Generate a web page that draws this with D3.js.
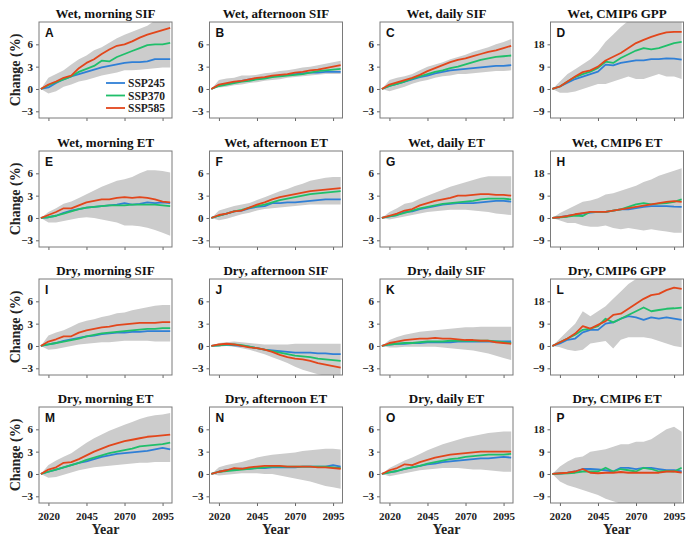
<!DOCTYPE html>
<html><head><meta charset="utf-8">
<script src="https://cdn.jsdelivr.net/npm/d3@7/dist/d3.min.js"></script>
<style>body{margin:0;background:#fff}svg{display:block}</style>
</head><body><svg id="c" width="700" height="541"></svg>
<script>
const years = [2015,2020,2025,2030,2035,2040,2045,2050,2055,2060,2065,2070,2075,2080,2085,2090,2095,2100];
const xTicks = [2020,2045,2070,2095];
const yTicksSmall = [-3,0,3,6];
const yTicksBig = [-9,0,9,18];
const seriesNames = ["SSP245","SSP370","SSP585"];
const seriesColors = ["#2f7fd6","#1fbf6a","#e2461b"];
const titles = ["Wet, morning SIF","Wet, afternoon SIF","Wet, daily SIF","Wet, CMIP6 GPP",
  "Wet, morning ET","Wet, afternoon ET","Wet, daily ET","Wet, CMIP6 ET",
  "Dry, morning SIF","Dry, afternoon SIF","Dry, daily SIF","Dry, CMIP6 GPP",
  "Dry, morning ET","Dry, afternoon ET","Dry, daily ET","Dry, CMIP6 ET"];
const letters = ["A","B","C","D","E","F","G","H","I","J","K","L","M","N","O","P"];

// A
const A245=[0,0.2,0.8,1.3,1.7,2.0,2.3,2.6,2.9,3.1,3.3,3.5,3.6,3.6,3.7,4.0,4.0,4.0];
const A370=[0,0.5,0.9,1.3,1.7,2.3,2.7,3.1,3.8,3.7,4.3,4.7,5.1,5.5,5.9,6.0,6.0,6.2];
const A585=[0,0.6,1.0,1.5,1.8,2.8,3.5,4.0,4.7,5.3,5.8,6.0,6.4,6.9,7.3,7.6,7.9,8.2];
const Ahi=[0,1.5,2.0,2.5,3.3,4.0,4.5,5.2,5.6,6.2,6.8,7.3,7.7,8.1,8.5,9.2,9.4,9.4];
const Alo=[0,-0.6,-0.3,0.3,0.6,1.0,1.2,1.5,1.8,2.0,2.2,2.5,2.5,2.6,2.7,2.8,2.9,2.9];
// B
const B245=[0,0.5,0.7,0.9,1.1,1.3,1.4,1.5,1.7,1.8,1.9,2.0,2.1,2.2,2.2,2.3,2.3,2.3];
const B370=[0,0.4,0.6,0.8,1.0,1.1,1.3,1.4,1.6,1.7,1.8,1.9,2.0,2.2,2.4,2.5,2.6,2.7];
const B585=[0,0.6,0.8,1.0,1.1,1.3,1.5,1.6,1.8,1.9,2.0,2.2,2.3,2.5,2.6,2.8,3.0,3.2];
const Bhi=[0,1.2,1.4,1.5,1.8,1.8,1.9,2.1,2.2,2.4,2.5,2.7,2.9,3.0,3.2,3.4,3.6,3.8];
const Blo=[0,0.2,0.3,0.5,0.6,0.8,0.9,1.1,1.2,1.3,1.5,1.6,1.7,1.8,1.9,2.0,2.0,2.0];
// C
const C245=[0,0.4,0.7,1.0,1.3,1.6,1.8,2.1,2.3,2.5,2.6,2.7,2.8,2.9,3.0,3.1,3.1,3.2];
const C370=[0,0.4,0.7,1.0,1.4,1.7,2.0,2.3,2.5,2.8,3.0,3.3,3.6,3.9,4.1,4.3,4.4,4.5];
const C585=[0,0.6,0.9,1.2,1.5,1.9,2.4,2.8,3.2,3.6,3.9,4.1,4.4,4.7,5.0,5.2,5.5,5.8];
const Chi=[0,1.2,1.5,1.7,2.0,2.5,3.0,3.3,3.6,4.0,4.3,4.6,5.0,5.3,5.6,6.0,6.3,6.7];
const Clo=[0,-0.3,0.0,0.3,0.7,1.0,1.2,1.5,1.7,1.8,2.0,2.0,2.1,2.2,2.3,2.4,2.4,2.5];
// D
const D245=[0,1.0,2.5,4.0,5.0,6.0,7.0,9.8,9.5,10.5,11.0,11.5,11.5,12.0,12.0,12.3,12.2,11.8];
const D370=[0,1.0,3.0,4.8,6.0,7.0,8.5,11.0,10.5,12.5,14.0,15.5,16.5,16.0,16.5,17.5,18.5,19.0];
const D585=[0,1.0,3.0,5.0,6.8,7.5,9.0,11.5,13.0,14.5,16.5,18.5,19.8,21.0,22.0,22.8,23.0,23.0];
const Dhi=[0,3,6,8,10,12,15,19,22,25,27.5,28,28,28,28,28,28,28];
const Dlo=[0,-1.5,-1.5,-1,0,1,2,2,3,4,5,4,4,5,6,5,5,4];
// E
const E245=[0,0.1,0.3,0.7,1.0,1.2,1.4,1.5,1.6,1.7,1.8,2.0,1.8,1.9,2.1,2.0,2.1,2.0];
const E370=[0,0.1,0.3,0.6,0.9,1.2,1.4,1.5,1.6,1.7,1.7,1.7,1.8,1.8,1.8,1.8,1.7,1.6];
const E585=[0,0.4,0.8,1.3,1.3,1.7,2.1,2.3,2.5,2.5,2.7,2.8,2.7,2.8,2.7,2.5,2.2,2.1];
const Ehi=[0,0.8,1.3,1.9,2.2,2.7,3.2,3.7,4.2,4.6,5.0,5.2,5.5,6.0,6.4,6.4,6.3,6.1];
const Elo=[0,-0.6,-0.6,-0.4,-0.2,0.0,0.1,0.0,-0.2,-0.4,-0.6,-1.0,-1.0,-1.1,-1.3,-1.6,-2.0,-2.4];
// F
const F245=[0,0.3,0.6,0.9,1.0,1.3,1.5,1.6,2.0,2.0,2.1,2.1,2.2,2.3,2.4,2.5,2.5,2.5];
const F370=[0,0.3,0.6,0.9,1.1,1.4,1.6,1.8,2.1,2.4,2.6,2.8,3.0,3.2,3.3,3.4,3.5,3.6];
const F585=[0,0.4,0.6,0.9,1.0,1.4,1.8,2.1,2.5,2.8,3.0,3.2,3.4,3.6,3.7,3.8,3.9,4.0];
const Fhi=[0,1.0,1.3,1.6,1.8,2.0,2.4,2.8,3.2,3.6,3.9,4.3,4.6,5.0,5.2,5.4,5.5,5.5];
const Flo=[0,-0.3,-0.1,0.2,0.5,0.7,1.0,1.2,1.3,1.4,1.5,1.6,1.7,1.8,1.8,1.8,1.8,1.8];
// G
const G245=[0,0.2,0.4,0.8,0.9,1.2,1.4,1.6,1.8,1.9,2.0,2.0,2.0,2.1,2.2,2.3,2.3,2.2];
const G370=[0,0.2,0.4,0.7,1.0,1.3,1.5,1.7,1.9,2.0,2.1,2.2,2.3,2.5,2.6,2.6,2.6,2.5];
const G585=[0,0.3,0.6,1.0,1.2,1.7,2.0,2.3,2.5,2.7,3.0,3.0,3.1,3.2,3.2,3.1,3.1,3.0];
const Ghi=[0,0.8,1.3,1.9,2.1,2.6,3.0,3.4,3.8,4.2,4.5,4.8,5.1,5.4,5.6,5.6,5.6,5.6];
const Glo=[0,-0.2,0.0,0.2,0.4,0.6,0.8,0.9,1.0,1.1,1.1,1.1,1.0,0.9,0.8,0.6,0.5,0.4];
// H
const H245=[0,0.3,0.8,1.3,1.8,2.2,2.5,2.5,3.0,3.5,3.5,4.0,4.5,4.8,4.8,4.8,4.6,4.5];
const H370=[0,0.3,0.5,1.0,0.8,2.5,2.5,2.5,3.0,3.5,4.5,5.5,6.0,5.5,5.8,6.0,6.5,7.5];
const H585=[0,0.3,0.8,1.5,2.0,2.5,2.5,2.5,3.0,3.5,4.0,4.5,5.0,5.5,6.0,6.5,6.8,6.5];
const Hhi=[0,2,3.5,5,6.5,7,8,9.5,10,11,12,13,14.5,15.5,17,18,19,20];
const Hlo=[0,-1,-2,-2,-3,-3.5,-3.5,-3,-4,-4.5,-4,-4.5,-5,-4.5,-5,-5.5,-6,-6];
// I
const I245=[0,0.2,0.4,0.7,0.9,1.1,1.3,1.4,1.6,1.7,1.8,1.8,1.9,1.9,2.0,2.0,2.0,2.0];
const I370=[0,0.2,0.4,0.6,0.8,1.0,1.3,1.5,1.7,1.8,1.9,2.0,2.1,2.2,2.3,2.3,2.4,2.4];
const I585=[0,0.6,0.9,1.3,1.3,1.8,2.1,2.3,2.5,2.6,2.8,2.9,3.0,3.1,3.1,3.1,3.2,3.2];
const Ihi=[0,1.4,1.8,2.1,2.6,3.1,3.4,3.6,3.9,4.1,4.4,4.5,4.8,5.0,5.2,5.4,5.5,5.5];
const Ilo=[0,-0.5,-0.4,-0.2,0.0,0.2,0.3,0.4,0.5,0.5,0.6,0.7,0.7,0.7,0.7,0.6,0.6,0.6];
// J
const J245=[0,0.1,0.2,0.1,0.0,-0.1,-0.3,-0.5,-0.6,-0.7,-0.8,-0.9,-0.9,-0.9,-1.0,-1.0,-1.1,-1.1];
const J370=[0,0.1,0.2,0.2,0.1,-0.1,-0.3,-0.5,-0.7,-0.9,-1.1,-1.3,-1.4,-1.5,-1.7,-1.8,-1.9,-2.0];
const J585=[0,0.2,0.3,0.2,0.0,-0.2,-0.3,-0.5,-0.8,-1.2,-1.5,-1.7,-1.8,-2.0,-2.3,-2.5,-2.7,-2.9];
const Jhi=[0,0.4,0.5,0.6,0.5,0.4,0.3,0.2,0.2,0.2,0.2,0.3,0.3,0.3,0.3,0.3,0.3,0.3];
const Jlo=[0,-0.1,0.0,-0.1,-0.3,-0.5,-0.8,-1.1,-1.5,-1.9,-2.3,-2.8,-3.2,-3.5,-3.8,-4.0,-4.0,-4.0];
// K
const K245=[0,0.2,0.3,0.3,0.4,0.4,0.5,0.5,0.5,0.5,0.6,0.6,0.6,0.6,0.6,0.6,0.6,0.6];
const K370=[0,0.2,0.3,0.4,0.4,0.5,0.6,0.6,0.6,0.7,0.7,0.7,0.7,0.7,0.7,0.6,0.5,0.4];
const K585=[0,0.4,0.6,0.8,0.9,1.0,1.0,1.1,1.0,1.0,0.9,0.8,0.8,0.7,0.7,0.5,0.4,0.3];
const Khi=[0,0.8,1.2,1.5,1.7,1.9,2.0,2.1,2.2,2.3,2.4,2.5,2.5,2.6,2.6,2.6,2.6,2.6];
const Klo=[0,-0.2,-0.2,-0.1,-0.1,-0.1,-0.1,-0.1,-0.2,-0.3,-0.4,-0.5,-0.6,-0.8,-1.0,-1.3,-1.6,-1.9];
// L
const L245=[0,1.0,2.5,3.0,5.5,6.5,6.5,9.0,9.5,11.0,12.0,11.5,10.5,11.5,11.0,11.5,11.0,10.5];
const L370=[0,1.5,3.0,4.5,6.5,7.0,8.0,11.0,9.5,11.0,12.5,14.0,15.5,14.0,14.5,15.0,15.2,15.5];
const L585=[0,1.5,3.0,5.0,8.0,7.0,8.5,10.0,12.5,13.0,15.0,17.0,19.0,20.5,21.0,22.5,23.5,23.0];
const Lhi=[0,3,6,9,14,12,14,16,19,22,25,27,28,28,28,28,28,28];
const Llo=[0,-0.5,-1.5,-2,-1.5,1,1.5,2,-1,2.5,3.5,3.5,3.5,3,2,1,0,-0.5];
// M
const M245=[0,0.3,0.6,0.9,1.2,1.5,1.7,2.0,2.3,2.5,2.7,2.8,2.9,3.0,3.1,3.3,3.5,3.3];
const M370=[0,0.3,0.6,0.9,1.2,1.5,1.9,2.2,2.5,2.8,3.0,3.2,3.4,3.7,3.8,3.9,4.0,4.2];
const M585=[0,0.6,0.9,1.5,1.6,2.0,2.5,3.0,3.4,3.8,4.1,4.4,4.6,4.8,5.0,5.1,5.2,5.3];
const Mhi=[0,1.2,1.8,2.3,2.8,3.5,4.2,4.8,5.3,5.8,6.2,6.6,7.0,7.4,7.7,7.9,8.0,8.2];
const Mlo=[0,-0.5,-0.4,-0.1,0.2,0.5,0.7,0.9,1.0,1.1,1.2,1.3,1.4,1.5,1.5,1.6,1.6,1.6];
// N
const N245=[0,0.3,0.5,0.6,0.7,0.7,0.8,0.8,0.9,0.9,0.9,0.9,1.0,1.0,1.0,1.0,1.2,1.0];
const N370=[0,0.3,0.4,0.5,0.6,0.7,0.8,0.9,1.0,1.0,1.0,1.0,1.0,1.0,1.0,1.0,0.9,0.8];
const N585=[0,0.3,0.5,0.8,0.7,0.9,1.0,1.1,1.1,1.1,1.0,1.0,1.0,1.0,0.9,0.9,0.8,0.7];
const Nhi=[0,0.9,1.2,1.4,1.6,1.9,2.2,2.4,2.6,2.7,2.8,2.9,3.1,3.2,3.3,3.4,3.4,3.3];
const Nlo=[0,-0.2,-0.1,0.0,0.1,0.1,0.1,0.0,0.0,-0.2,-0.4,-0.6,-0.8,-1.0,-1.3,-1.6,-1.8,-2.0];
// O
const O245=[0,0.2,0.4,0.7,0.9,1.1,1.3,1.4,1.6,1.7,1.8,1.9,2.0,2.1,2.1,2.2,2.3,2.2];
const O370=[0,0.2,0.4,0.7,0.9,1.1,1.4,1.6,1.8,2.0,2.1,2.3,2.4,2.5,2.6,2.6,2.6,2.7];
const O585=[0,0.5,0.8,1.3,1.2,1.6,1.9,2.2,2.4,2.6,2.7,2.8,2.9,3.0,3.0,3.0,3.0,3.0];
const Ohi=[0,0.8,1.3,1.8,2.2,2.7,3.2,3.6,4.0,4.3,4.6,4.9,5.1,5.3,5.5,5.6,5.7,5.7];
const Olo=[0,-0.3,-0.1,0.1,0.3,0.5,0.6,0.7,0.8,0.8,0.8,0.7,0.6,0.6,0.5,0.4,0.3,0.3];
// P
const P245=[0,0.2,0.5,1.0,2.0,2.0,1.8,1.5,1.0,2.5,2.5,2.0,2.5,2.5,2.0,1.5,1.5,1.0];
const P370=[0,0.2,0.3,0.5,1.0,1.0,1.0,2.5,1.0,2.0,1.5,1.0,2.5,2.0,1.0,1.2,1.0,2.5];
const P585=[0,0.3,0.5,1.0,2.0,0.5,0.3,0.5,0.5,0.8,0.5,0.5,0.5,0.5,0.5,1.0,1.0,0.5];
const Phi=[0,3,5,6.5,7,9,9.5,10,11,12,12,13,13,14,16,18,19,17];
const Plo=[0,-3,-4.5,-5.5,-6.5,-7.5,-8.5,-10,-11,-12,-13,-13,-13,-13,-13,-13,-13,-13];

const panelData = [
  [A245,A370,A585,Ahi,Alo],[B245,B370,B585,Bhi,Blo],[C245,C370,C585,Chi,Clo],[D245,D370,D585,Dhi,Dlo],
  [E245,E370,E585,Ehi,Elo],[F245,F370,F585,Fhi,Flo],[G245,G370,G585,Ghi,Glo],[H245,H370,H585,Hhi,Hlo],
  [I245,I370,I585,Ihi,Ilo],[J245,J370,J585,Jhi,Jlo],[K245,K370,K585,Khi,Klo],[L245,L370,L585,Lhi,Llo],
  [M245,M370,M585,Mhi,Mlo],[N245,N370,N585,Nhi,Nlo],[O245,O370,O585,Ohi,Olo],[P245,P370,P585,Phi,Plo]
];

const svg = d3.select("#c");
const colX = [39, 209.5, 380, 550.5];
const rowY = [22, 151, 279, 407];
const W = 133, H = 96;
const serif = "'Liberation Serif','Times New Roman',serif";
const sans = "'Liberation Sans',Arial,sans-serif";
const x = d3.scaleLinear().domain([2013.8, 2101.2]).range([0, W]);

panelData.forEach((pd, i) => {
  const r = Math.floor(i / 4), c = i % 4;
  const big = (c === 3);
  const y = d3.scaleLinear().domain(big ? [-11.7, 27] : [-3.9, 9.0]).range([H, 0]);
  const g = svg.append("g").attr("transform", `translate(${colX[c]},${rowY[r]})`);
  const clipId = "clip" + i;
  g.append("clipPath").attr("id", clipId).append("rect").attr("width", W).attr("height", H);
  const plot = g.append("g").attr("clip-path", `url(#${clipId})`);
  const area = d3.area().x((d, k) => x(years[k])).y0((d, k) => y(pd[4][k])).y1((d, k) => y(pd[3][k]));
  plot.append("path").datum(years).attr("d", area).attr("fill", "#cccccc");
  const line = d3.line().x((d, k) => x(years[k])).y(d => y(d));
  [0, 1, 2].forEach(s => {
    plot.append("path").datum(pd[s]).attr("d", line).attr("fill", "none")
      .attr("stroke", seriesColors[s]).attr("stroke-width", 1.8).attr("stroke-linejoin", "round");
  });
  const xa = g.append("g").attr("transform", `translate(0,${H})`)
    .call(d3.axisBottom(x).tickValues(xTicks).tickSize(3).tickPadding(6).tickFormat(r === 3 ? d3.format("d") : () => ""));
  const ya = g.append("g").call(d3.axisLeft(y).tickValues(big ? yTicksBig : yTicksSmall).tickSize(3).tickPadding(3)
    .tickFormat(d => d < 0 ? "\u2212" + Math.abs(d) : d));
  [xa, ya].forEach(a => {
    a.select(".domain").remove();
    a.selectAll("line").attr("stroke", "#666");
    a.selectAll("text").attr("font-family", serif).attr("font-weight", "bold").attr("font-size", 11).attr("fill", "#222");
  });
  g.append("rect").attr("width", W).attr("height", H).attr("fill", "none").attr("stroke", "#7a7a7a").attr("stroke-width", 1);
  g.append("text").attr("x", W / 2).attr("y", -4).attr("text-anchor", "middle")
    .attr("font-family", serif).attr("font-weight", "bold").attr("font-size", 13).attr("fill", "#111").text(titles[i]);
  g.append("text").attr("x", 6).attr("y", 15).attr("font-family", sans).attr("font-weight", "bold")
    .attr("font-size", 12).attr("fill", "#111").text(letters[i]);
  if (c === 0) {
    g.append("text").attr("transform", `translate(${20 - colX[0]},${H / 2}) rotate(-90)`).attr("text-anchor", "middle")
      .attr("font-family", serif).attr("font-weight", "bold").attr("font-size", 14).attr("fill", "#222").text("Change (%)");
  }
  if (r === 3) {
    g.append("text").attr("x", W / 2).attr("y", H + 31).attr("text-anchor", "middle")
      .attr("font-family", serif).attr("font-weight", "bold").attr("font-size", 14).attr("fill", "#222").text("Year");
  }
  if (i === 0) {
    seriesNames.forEach((nm, s) => {
      const ly = 61 + s * 12.5;
      g.append("line").attr("x1", 67).attr("x2", 86).attr("y1", ly).attr("y2", ly)
        .attr("stroke", seriesColors[s]).attr("stroke-width", 1.8);
      g.append("text").attr("x", 89).attr("y", ly + 4).attr("font-family", serif).attr("font-weight", "bold")
        .attr("font-size", 11.5).attr("fill", "#222").text(nm);
    });
  }
});
</script></body></html>
